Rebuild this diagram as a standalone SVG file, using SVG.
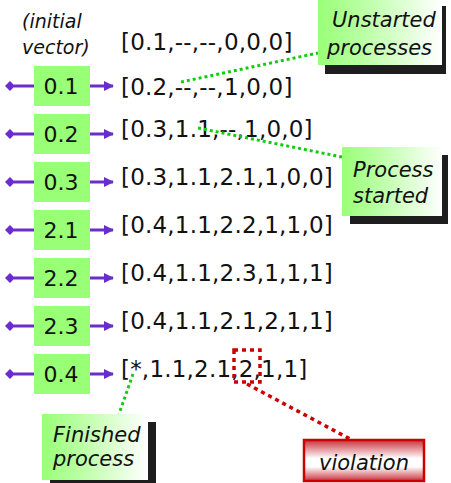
<svg xmlns="http://www.w3.org/2000/svg" width="451" height="483" viewBox="0 0 451 483">
  <defs>
    <linearGradient id="noteFill" x1="0" y1="0" x2="1" y2="0">
      <stop offset="0" stop-color="#99ff77"/>
      <stop offset="0.3" stop-color="#b4ff9c"/>
      <stop offset="1" stop-color="#ffffff"/>
    </linearGradient>
    <linearGradient id="alertFill" x1="0" y1="0" x2="0" y2="1">
      <stop offset="0" stop-color="#c8323c"/>
      <stop offset="0.45" stop-color="#ffffff"/>
      <stop offset="0.65" stop-color="#ffffff"/>
      <stop offset="1" stop-color="#c8323c"/>
    </linearGradient>
    <marker id="tri" viewBox="0 0 10 10" refX="9" refY="5" markerWidth="11" markerHeight="10" markerUnits="userSpaceOnUse" orient="auto">
      <path d="M0,0 L10,5 L0,10 Z" fill="#6a2ccc"/>
    </marker>
    <marker id="dia" viewBox="0 0 10 10" refX="1" refY="5" markerWidth="11" markerHeight="10" markerUnits="userSpaceOnUse" orient="auto">
      <path d="M0,5 L5,0 L10,5 L5,10 Z" fill="#6a2ccc"/>
    </marker>
  </defs>
  <style>
    .ev rect { fill: #99ff77; }
    .ev text { font-family: "DejaVu Sans", sans-serif; font-size: 22px; fill: #111; text-anchor: middle; }
    .vec { font-family: "DejaVu Sans", sans-serif; font-size: 23px; fill: #111; letter-spacing: 0.2px; }
    .note text { font-family: "DejaVu Sans", sans-serif; font-style: italic; font-size: 21px; fill: #111; }
    .shadow { fill: #1e1e1e; }
    .flow { stroke: #6a2ccc; stroke-width: 3; fill: none; }
    .ptr { stroke: #11cc11; stroke-width: 3; stroke-dasharray: 3 3; fill: none; }
    .bad { stroke: #cc0000; stroke-width: 3.5; stroke-dasharray: 4 4; fill: none; }
  </style>

  <rect width="451" height="483" fill="#ffffff"/>

  <!-- header label -->
  <g id="label-initial">
    <text x="22" y="28" font-family="DejaVu Sans, sans-serif" font-style="italic" font-size="19" fill="#111">(initial</text>
    <text x="22" y="54" font-family="DejaVu Sans, sans-serif" font-style="italic" font-size="19" fill="#111">vector)</text>
  </g>

  <!-- vector clock values -->
  <g id="vectors" class="vec">
    <text x="121" y="50">[0.1,--,--,0,0,0]</text>
    <text x="121" y="95">[0.2,--,--,1,0,0]</text>
    <text x="121" y="137">[0.3,1.1,--,1,0,0]</text>
    <text x="121" y="185">[0.3,1.1,2.1,1,0,0]</text>
    <text x="121" y="233">[0.4,1.1,2.2,1,1,0]</text>
    <text x="121" y="281">[0.4,1.1,2.3,1,1,1]</text>
    <text x="121" y="329">[0.4,1.1,2.1,2,1,1]</text>
    <text x="121" y="377">[*,1.1,2.1,2,1,1]</text>
  </g>

  <!-- connectors -->
  <g id="connectors">
    <g id="event-arrows">
      <line class="flow" x1="34" y1="86" x2="14" y2="86" marker-end="url(#dia)"/>
      <line class="flow" x1="90" y1="86" x2="113" y2="86" marker-end="url(#tri)"/>
      <line class="flow" x1="34" y1="134" x2="14" y2="134" marker-end="url(#dia)"/>
      <line class="flow" x1="90" y1="134" x2="113" y2="134" marker-end="url(#tri)"/>
      <line class="flow" x1="34" y1="182" x2="14" y2="182" marker-end="url(#dia)"/>
      <line class="flow" x1="90" y1="182" x2="113" y2="182" marker-end="url(#tri)"/>
      <line class="flow" x1="34" y1="230" x2="14" y2="230" marker-end="url(#dia)"/>
      <line class="flow" x1="90" y1="230" x2="113" y2="230" marker-end="url(#tri)"/>
      <line class="flow" x1="34" y1="278" x2="14" y2="278" marker-end="url(#dia)"/>
      <line class="flow" x1="90" y1="278" x2="113" y2="278" marker-end="url(#tri)"/>
      <line class="flow" x1="34" y1="326" x2="14" y2="326" marker-end="url(#dia)"/>
      <line class="flow" x1="90" y1="326" x2="113" y2="326" marker-end="url(#tri)"/>
      <line class="flow" x1="34" y1="374" x2="14" y2="374" marker-end="url(#dia)"/>
      <line class="flow" x1="90" y1="374" x2="113" y2="374" marker-end="url(#tri)"/>
    </g>
    <line class="ptr" x1="181" y1="82" x2="318" y2="53"/>
    <line class="ptr" x1="198" y1="128" x2="342" y2="157"/>
    <line class="ptr" x1="133" y1="374" x2="119" y2="414"/>
    <rect class="bad" x="234" y="350" width="26" height="32"/>
    <line class="bad" x1="247" y1="384" x2="350" y2="439"/>
  </g>

  <!-- event nodes -->
  <g id="ev-0-1" class="ev"><rect x="34" y="66" width="56" height="40"/><text x="61" y="94">0.1</text></g>
  <g id="ev-0-2" class="ev"><rect x="34" y="114" width="56" height="40"/><text x="61" y="142">0.2</text></g>
  <g id="ev-0-3" class="ev"><rect x="34" y="162" width="56" height="40"/><text x="61" y="190">0.3</text></g>
  <g id="ev-2-1" class="ev"><rect x="34" y="210" width="56" height="40"/><text x="61" y="238">2.1</text></g>
  <g id="ev-2-2" class="ev"><rect x="34" y="258" width="56" height="40"/><text x="61" y="286">2.2</text></g>
  <g id="ev-2-3" class="ev"><rect x="34" y="306" width="56" height="40"/><text x="61" y="334">2.3</text></g>
  <g id="ev-0-4" class="ev"><rect x="34" y="354" width="56" height="40"/><text x="61" y="382">0.4</text></g>

  <!-- callouts -->
  <g id="note-unstarted" class="note">
    <rect class="shadow" x="325" y="6" width="121" height="68"/>
    <rect x="318" y="-2" width="124" height="67" fill="url(#noteFill)"/>
    <text x="332" y="27">Unstarted</text>
    <text x="327" y="55">processes</text>
  </g>
  <g id="note-started" class="note">
    <rect class="shadow" x="350" y="155" width="98" height="69"/>
    <rect x="342" y="147" width="100" height="69" fill="url(#noteFill)"/>
    <text x="353" y="177">Process</text>
    <text x="353" y="203">started</text>
  </g>
  <g id="note-finished" class="note">
    <rect class="shadow" x="50" y="422" width="106" height="66"/>
    <rect x="42" y="414" width="106" height="66" fill="url(#noteFill)"/>
    <text x="53" y="442">Finished</text>
    <text x="53" y="466">process</text>
  </g>
  <g id="note-violation" class="note">
    <rect x="304" y="440" width="120" height="41" fill="url(#alertFill)" stroke="#cc0000" stroke-width="2.5"/>
    <text x="364" y="470" text-anchor="middle">violation</text>
  </g>
</svg>
